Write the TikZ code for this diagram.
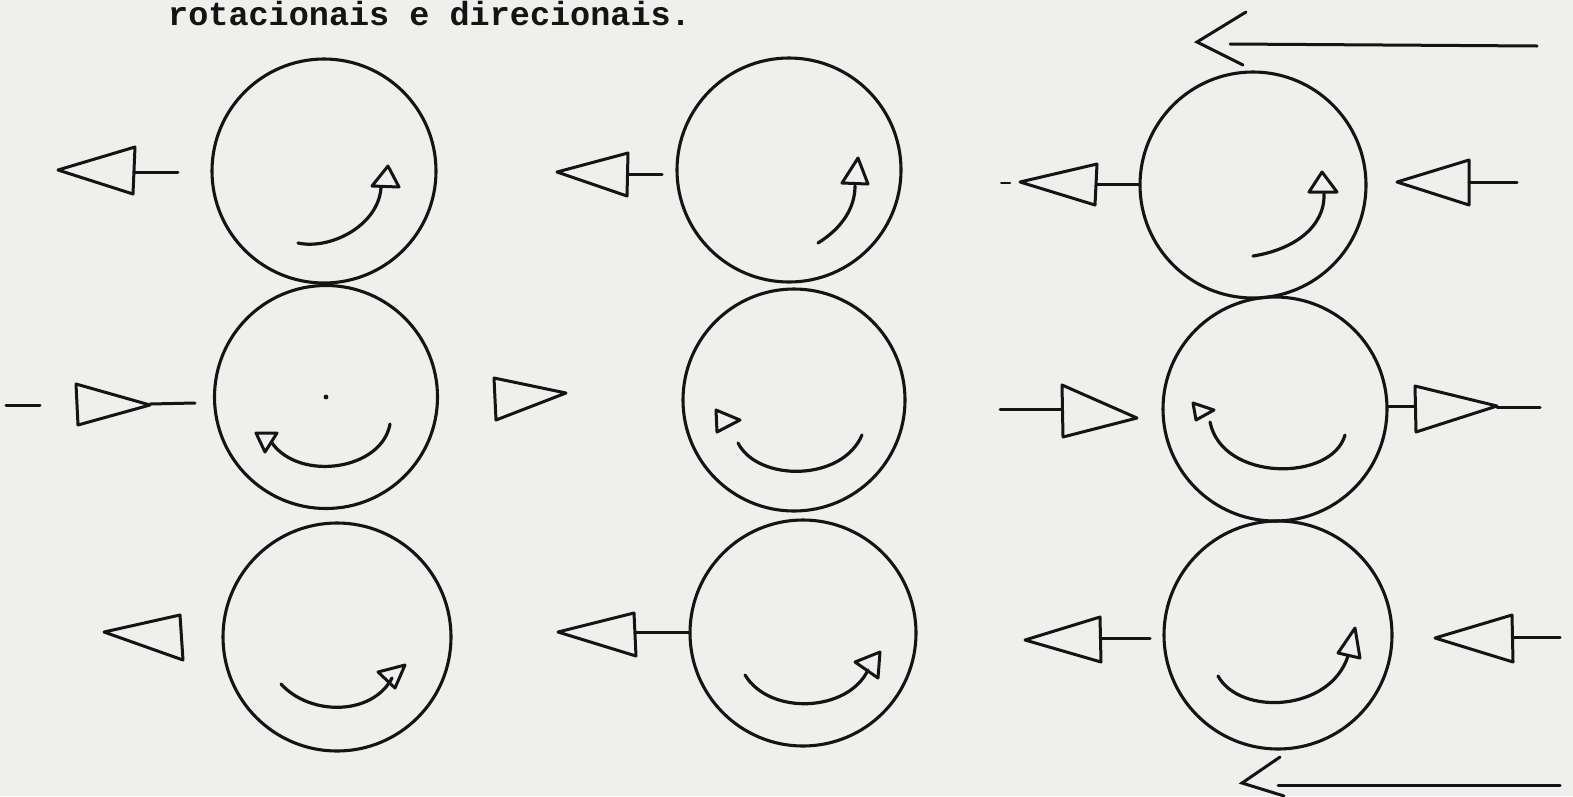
\documentclass[tikz,border=0pt]{standalone}
\usepackage{fontspec}
\newfontfamily\typewriter{Liberation Mono}
\definecolor{paper}{RGB}{239,239,237}
\definecolor{ink}{RGB}{20,20,20}
\tikzset{
  wheel/.style={draw=ink, circle, inner sep=0pt, line width=3.1pt},
  head/.style={draw=ink, line width=3pt, line join=round},
  stroke/.style={draw=ink, line width=3pt, line cap=round},
  spin/.style={draw=ink, line width=3.2pt, line cap=round}
}
\begin{document}
\begin{tikzpicture}[x=1pt,y=-1pt]
\fill[paper] (0,0) rectangle (1573,796);
\useasboundingbox (0,0) rectangle (1573,796);

% heading line
\node[anchor=base west, inner sep=0pt, text=ink, font=\typewriter\bfseries\fontsize{33.5}{36}\selectfont] (title) at (168,25) {rotacionais e direcionais.};

% the nine wheels
\node[wheel, minimum size=224pt] (c11) at (324,171) {};
\node[wheel, minimum size=224pt] (c12) at (789,170) {};
\node[wheel, minimum size=226pt] (c13) at (1253,185) {};
\node[wheel, minimum size=223pt] (c21) at (326,397) {};
\node[wheel, minimum size=222pt] (c22) at (794,400) {};
\node[wheel, minimum size=224pt] (c23) at (1275,409) {};
\node[wheel, minimum size=228pt] (c31) at (337,637) {};
\node[wheel, minimum size=226pt] (c32) at (803,633) {};
\node[wheel, minimum size=228pt] (c33) at (1278,635) {};
\fill[ink] (c21.center) circle (2.4pt);

% ---- row 1: outer arrows
\draw[head] (58,170) -- (135,147) -- (133,194) -- cycle;
\coordinate (s11) at (135,172);
\draw[stroke] (s11) -- ++(43,0);
\draw[head] (557,172) -- (628,153) -- (627,196) -- cycle;
\coordinate (s12) at (628,174);
\draw[stroke] (s12) -- ++(34,0);
\draw[stroke, line width=2pt] (1001,183) -- (1010,183);
\draw[head] (1020,182) -- (1097,164) -- (1095,205) -- cycle;
\coordinate (s13) at (1097,184);
\draw[stroke] (s13) -- (c13.west |- s13);
\draw[head] (1397,182) -- (1469,160) -- (1469,205) -- cycle;
\coordinate (s13r) at (1469,182);
\draw[stroke] (s13r) -- ++(48,0);
% long arrow above the third column
\coordinate (topTip) at (1197,42);
\draw[stroke] (1246,12) -- (topTip) -- (1243,65);
\draw[stroke] (1230,44) -- (1537,46);

% ---- row 2: outer arrows
\draw[stroke] (6,405) -- (40,405);
\draw[head] (76,384) -- (150,405) -- (78,425) -- cycle;
\coordinate (t21) at (150,404);
\draw[stroke] (t21) -- (195,403);
\draw[head] (494,378) -- (566,393) -- (496,420) -- cycle;
\coordinate (b23) at (1062,409);
\draw[stroke] (1000,409) -- (b23);
\draw[head] (1062,385) -- (1137,418) -- (1063,437) -- cycle;
\coordinate (b23r) at (1415,406);
\draw[stroke] (c23.east |- b23r) -- (b23r);
\draw[head] (1415,386) -- (1497,406) -- (1416,432) -- cycle;
\draw[stroke] (1497,407) -- (1540,407);

% ---- row 3: outer arrows
\draw[head] (104,632) -- (180,615) -- (183,660) -- cycle;
\draw[head] (558,632) -- (634,613) -- (636,656) -- cycle;
\coordinate (s32) at (636,632);
\draw[stroke] (s32) -- (c32.west |- s32);
\draw[head] (1025,640) -- (1100,617) -- (1101,662) -- cycle;
\coordinate (s33) at (1101,638);
\draw[stroke] (s33) -- (1150,638);
\draw[head] (1435,638) -- (1512,615) -- (1513,662) -- cycle;
\coordinate (s33r) at (1513,637);
\draw[stroke] (s33r) -- (1560,637);
% long arrow below the third column
\coordinate (botTip) at (1242,783);
\draw[stroke] (1280,757) -- (botTip) -- (1284,796);
\draw[stroke] (1278,785) -- (1560,785);

% ---- turning arrows inside the wheels
\draw[spin] (298,243) .. controls (330,250) and (378,226) .. (381,188);
\draw[head] (388,166) -- (372,186) -- (399,187) -- cycle;
\draw[spin] (818,243) .. controls (842,228) and (855,208) .. (855,186);
\draw[head] (858,158) -- (842,183) -- (868,184) -- cycle;
\draw[spin] (1253,256) .. controls (1292,250) and (1325,228) .. (1324,194);
\draw[head] (1322,172) -- (1309,192) -- (1337,192) -- cycle;

\draw[spin] (390,424) .. controls (382,470) and (300,482) .. (272,443);
\draw[head] (256,433) -- (277,433) -- (265,452) -- cycle;
\draw[spin] (862,435) .. controls (842,482) and (758,482) .. (738,443);
\draw[head] (716,410) -- (740,420) -- (717,432) -- cycle;
\draw[spin] (1345,435) .. controls (1332,482) and (1222,482) .. (1210,422);
\draw[head] (1193,403) -- (1214,410) -- (1196,420) -- cycle;

\draw[spin] (281,684) .. controls (310,716) and (372,716) .. (392,678);
\draw[head] (378,672) -- (405,665) -- (395,688) -- cycle;
\draw[spin] (745,675) .. controls (770,716) and (848,712) .. (868,670);
\draw[head] (855,662) -- (880,652) -- (878,678) -- cycle;
\draw[spin] (1218,676) .. controls (1240,716) and (1330,712) .. (1348,656);
\draw[head] (1338,653) -- (1355,628) -- (1360,658) -- cycle;
\end{tikzpicture}
\end{document}
